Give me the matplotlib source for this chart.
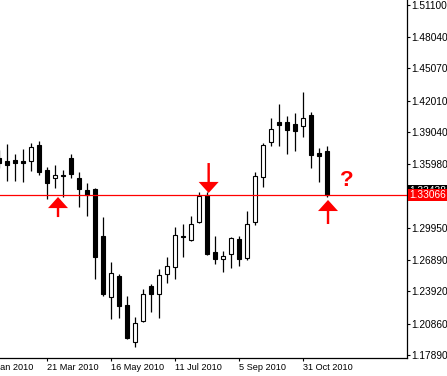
"""
EURUSD weekly candles 2010 - MT4 style recreation.
"""

import matplotlib
matplotlib.use('Agg')
import matplotlib.pyplot as plt
import matplotlib.transforms as mtransforms
from matplotlib.patches import FancyArrow

plt.rcParams['font.family'] = ['Liberation Sans', 'DejaVu Sans']

# ── data (weekly OHLC, one candle per week) ──
opens = [1.3657, 1.3628, 1.3638, 1.3628, 1.3628, 1.3780, 1.3543, 1.3467, 1.3496, 1.3657,
         1.3467, 1.3353, 1.3363, 1.2918, 1.2339, 1.2538, 1.2263, 1.1912, 1.2112, 1.2443,
         1.2367, 1.2557, 1.2624, 1.2918, 1.2880, 1.3050, 1.3306, 1.2766, 1.2699, 1.2747,
         1.2889, 1.2709, 1.3050, 1.3477, 1.3809, 1.3998, 1.3998, 1.3979, 1.3960, 1.4064,
         1.3704, 1.3723]
highs = [1.3733, 1.3789, 1.3695, 1.3742, 1.3799, 1.3818, 1.3572, 1.3590, 1.3543, 1.3695,
         1.3524, 1.3420, 1.3372, 1.3097, 1.2671, 1.2557, 1.2349, 1.2150, 1.2415, 1.2462,
         1.2605, 1.2718, 1.3003, 1.3031, 1.3107, 1.3335, 1.3335, 1.2918, 1.2775, 1.2908,
         1.2918, 1.3155, 1.3524, 1.3799, 1.4036, 1.4169, 1.4055, 1.4083, 1.4283, 1.4093,
         1.3752, 1.3770]
lows = [1.3562, 1.3439, 1.3439, 1.3429, 1.3534, 1.3496, 1.3268, 1.3372, 1.3287, 1.3467,
        1.3192, 1.3107, 1.2510, 1.2349, 1.2131, 1.2140, 1.1941, 1.1865, 1.2102, 1.2197,
        1.2140, 1.2472, 1.2510, 1.2718, 1.2870, 1.3041, 1.2737, 1.2652, 1.2576, 1.2614,
        1.2633, 1.2690, 1.3022, 1.3382, 1.3771, 1.3771, 1.3695, 1.3723, 1.3856, 1.3562,
        1.3429, 1.3287]
closes = [1.3609, 1.3590, 1.3609, 1.3609, 1.3761, 1.3524, 1.3420, 1.3496, 1.3486, 1.3505,
          1.3363, 1.3306, 1.2718, 1.2367, 1.2567, 1.2254, 1.1950, 1.2093, 1.2367, 1.2367,
          1.2548, 1.2633, 1.2927, 1.2908, 1.3031, 1.3297, 1.2747, 1.2699, 1.2728, 1.2898,
          1.2699, 1.3031, 1.3486, 1.3780, 1.3932, 1.3970, 1.3922, 1.3913, 1.4036, 1.3685,
          1.3676, 1.3310]

bid_price = 1.33066
ask_price = 1.33438

y_ticks = [1.51100, 1.48040, 1.45070, 1.42010, 1.39040, 1.35980,
           1.29950, 1.26890, 1.23920, 1.20860, 1.17890]

x_tick_pos = [6, 14, 22, 30, 38]
x_tick_labels = ['21 Mar 2010', '16 May 2010', '11 Jul 2010', '5 Sep 2010', '31 Oct 2010']
first_label_pos = -2
first_label = '24 Jan 2010'

# arrows: (candle position, tail price, length in price, direction)
arrows = [(7.34, 1.3097, 0.0190), (26.17, 1.3609, -0.0284), (41.09, 1.3031, 0.0228)]
question_pos = (43.46, 1.3439)

W, H = 447, 376
fig = plt.figure(figsize=(W / 100, H / 100), dpi=100)
ax = fig.add_axes([0, 18 / H, 406.7 / W, 358 / H])

n = len(opens)
xs = list(range(n))

# wicks
ax.vlines(xs, lows, highs, color='black', linewidth=0.9, zorder=1)
# bodies
bottoms = [min(o, c) for o, c in zip(opens, closes)]
heights = [max(abs(c - o), 0.0003) for o, c in zip(opens, closes)]
faces = ['white' if c > o else 'black' for o, c in zip(opens, closes)]
ax.bar(xs, heights, bottom=bottoms, width=0.5, color=faces,
       edgecolor='black', linewidth=0.8, zorder=2)

ax.axhline(bid_price, color='red', linewidth=0.9, zorder=3)

# red arrows
for x, y0, dy in arrows:
    ax.add_patch(FancyArrow(x, y0, 0, dy, width=0.3, head_width=2.5,
                            head_length=0.0105, length_includes_head=True,
                            color='red', linewidth=0, zorder=4))
ax.text(question_pos[0], question_pos[1], '?', color='red', fontsize=16,
        fontweight='bold', ha='center', va='center', zorder=4)

ax.set_xlim(0.0875, 50.925)
ax.set_ylim(1.17608, 1.51546)

# MT4 style frame: only right and bottom
for s in ['top', 'left']:
    ax.spines[s].set_visible(False)
for s in ['right', 'bottom']:
    ax.spines[s].set_linewidth(0.9)

ax.yaxis.tick_right()
ax.set_yticks(y_ticks)
ax.set_yticklabels([f'{v:.5f}' for v in y_ticks])
ax.tick_params(axis='y', direction='out', length=2.2, width=0.8, pad=1.2, labelsize=7.3)

ax.set_xticks(x_tick_pos)
ax.set_xticklabels(x_tick_labels)
ax.tick_params(axis='x', direction='out', length=2.5, width=0.8, pad=1.0, labelsize=6.6)
for lbl in ax.get_xticklabels():
    lbl.set_horizontalalignment('left')

# cut-off first date label
trans = mtransforms.blended_transform_factory(ax.transData, ax.transAxes)
trans = mtransforms.offset_copy(trans, fig=fig, x=0, y=-3.5, units='points')
ax.text(first_label_pos, 0, first_label, transform=trans, ha='left', va='top',
        fontsize=6.6, clip_on=False)

# bid / ask price labels on the price scale
tr_lab = mtransforms.blended_transform_factory(ax.transAxes, ax.transData)
tr_lab = mtransforms.offset_copy(tr_lab, fig=fig, x=2.0, y=0, units='points')
ax.text(1.0, ask_price, f'{ask_price:.5f}', transform=tr_lab, ha='left', va='center',
        color='white', fontsize=7.3, clip_on=False, zorder=5,
        bbox=dict(facecolor='black', edgecolor='none', boxstyle='square,pad=0.12'))
ax.text(1.0, bid_price, f'{bid_price:.5f}', transform=tr_lab, ha='left', va='center',
        color='white', fontsize=7.3, clip_on=False, zorder=6,
        bbox=dict(facecolor='red', edgecolor='none', boxstyle='square,pad=0.12'))

fig.savefig('out.png', dpi=100)
